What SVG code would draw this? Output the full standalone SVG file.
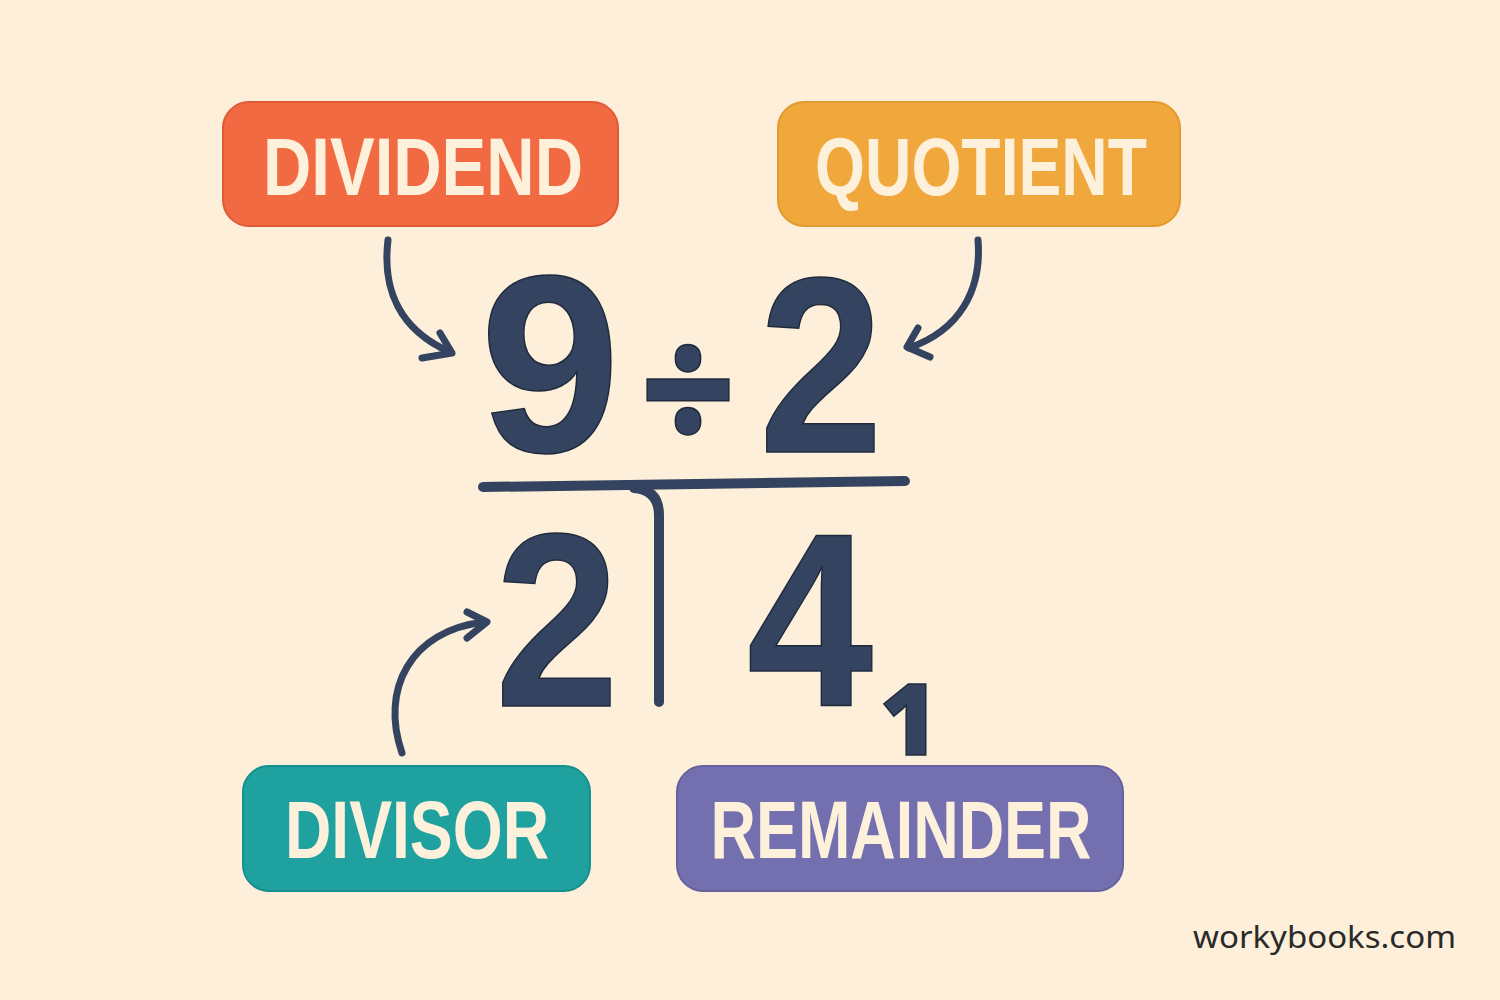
<svg xmlns="http://www.w3.org/2000/svg" width="1500" height="1000" viewBox="0 0 1500 1000">
<style>
.box{stroke-width:2;}
.lbl{font-family:"Liberation Sans",Arial,sans-serif;font-weight:bold;font-size:82px;fill:#FDF1DC;text-anchor:middle;}
.num{font-family:"Liberation Sans",Arial,sans-serif;font-weight:bold;fill:#334360;stroke:#1E2A3C;stroke-width:1.5;text-anchor:middle;}
.os{font-family:"Open Sans","DejaVu Sans",sans-serif;font-weight:800;}
.arr{fill:none;stroke:#334360;stroke-width:7;stroke-linecap:round;stroke-linejoin:round;}
.ln{fill:none;stroke:#334360;stroke-width:10;stroke-linecap:round;}
</style>
<rect width="1500" height="1000" fill="#FDEFD9"/>
<g id="dividend">
<rect class="box" x="223" y="102" width="395" height="124" rx="26" fill="#F26A41" stroke="#E05A35"/>
<text class="lbl" x="423" y="195" textLength="320" lengthAdjust="spacingAndGlyphs">DIVIDEND</text>
</g>
<g id="quotient">
<rect class="box" x="778" y="102" width="402" height="124" rx="26" fill="#F0A83C" stroke="#E09A30"/>
<text class="lbl" x="981" y="195" textLength="332" lengthAdjust="spacingAndGlyphs">QUOTIENT</text>
</g>
<g id="divisor">
<rect class="box" x="243" y="766" width="347" height="125" rx="26" fill="#1FA1A0" stroke="#178F8E"/>
<text class="lbl" x="417" y="858" textLength="264" lengthAdjust="spacingAndGlyphs">DIVISOR</text>
</g>
<g id="remainder">
<rect class="box" x="677" y="766" width="446" height="125" rx="26" fill="#7470B0" stroke="#65619F"/>
<text class="lbl" x="901" y="858" textLength="381" lengthAdjust="spacingAndGlyphs">REMAINDER</text>
</g>
<g id="equation">
<text class="num" x="550" y="452" font-size="252">9</text>
<text class="num os" x="688" y="448" font-size="165">÷</text>
<text class="num" x="821" y="452" font-size="250" textLength="124" lengthAdjust="spacingAndGlyphs">2</text>
<text class="num" x="557" y="706" font-size="246" textLength="124" lengthAdjust="spacingAndGlyphs">2</text>
<text class="num" x="810" y="706" font-size="246" textLength="126" lengthAdjust="spacingAndGlyphs">4</text>
<text class="num os" x="909" y="755" font-size="100">1</text>
<path class="ln" d="M483 487 L905 481"/>
<path class="ln" d="M634 488 Q659 490 659 515 L659 702"/>
</g>
<g id="connectors">
<path class="arr" d="M388 240 C382 290 400 330 450 352"/>
<path class="arr" d="M422 358 L452 353 L440 333"/>
<path class="arr" d="M978 240 C982 290 960 330 909 348"/>
<path class="arr" d="M918 328 L907 347 L930 357"/>
<path class="arr" d="M402 753 C380 690 410 630 485 622"/>
<path class="arr" d="M467 612 L487 622 L467 638"/>
</g>
<text x="1456" y="948" font-family="'Noto Sans','Open Sans',sans-serif" font-size="30" fill="#2A2A2A" text-anchor="end" textLength="263" lengthAdjust="spacingAndGlyphs">workybooks.com</text>
</svg>
